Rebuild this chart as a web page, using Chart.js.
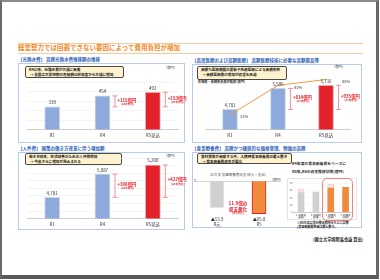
<!DOCTYPE html>
<html lang="ja">
<head>
<meta charset="utf-8">
<script src="https://cdn.jsdelivr.net/npm/chart.js@4.4.1/dist/chart.umd.min.js"></script>
<style>
  html, body { margin: 0; padding: 0; background: #fff; }
  body { width: 380px; height: 280px; position: relative; overflow: hidden; font-family: "Noto Sans CJK JP", sans-serif; }
  .page { position: absolute; left: 0; top: 0; width: 379px; height: 279px; box-sizing: border-box;
          border-left: 2px solid #6a6a6a; border-top: 2px solid #8a8a8a; border-right: 3px solid #666; border-bottom: 4px solid #5a5a5a; }
  .abs { position: absolute; white-space: nowrap; }
  .rule { position: absolute; left: 18px; width: 345px; height: 1px; background: #f7c99c; }
  .title { left: 18px; top: 43px; font-size: 6.5px; line-height: 8px; font-weight: bold; color: #ef8a26; }
  .ptitle { font-size: 4.5px; line-height: 6px; font-weight: bold; color: #2f62b8; }
  .panel { position: absolute; border: 1px solid #b9cbe8; box-sizing: border-box; }
  .callout { position: absolute; background: #fff2cc; border: 1px solid #4a4a4a; border-radius: 2px; box-sizing: border-box;
             font-size: 3.6px; line-height: 4.6px; font-weight: bold; color: #222; padding: 1px 3px; white-space: nowrap; }
  .unit { font-size: 3.4px; color: #444; }
  canvas { position: absolute; }
</style>
</head>
<body>
<div class="page"></div>
<div class="rule" style="top:43px"></div>
<div class="rule" style="top:53px"></div>
<div class="abs title">経営努力では回避できない要因によって費用負担が増加</div>

<div class="abs ptitle" style="left:18px;top:56px">【光熱水費】 高騰光熱水費推移額の推移</div>
<div class="abs ptitle" style="left:192px;top:57px">【高度医療および高額医療】 高額医療技術に必要な高額薬品等</div>
<div class="abs ptitle" style="left:18px;top:145px">【人件費】 国策の働き方改革に伴う増加額</div>
<div class="abs ptitle" style="left:192px;top:145px">【食事療養費】 高騰かつ硬直的な価格管理、物価の高騰</div>

<div class="panel" style="left:18px;top:63px;width:167px;height:80px"></div>
<div class="panel" style="left:192px;top:64px;width:170px;height:79px"></div>
<div class="panel" style="left:18px;top:152px;width:167px;height:78px"></div>
<div class="panel" style="left:192px;top:152px;width:170px;height:76px"></div>

<div class="callout" style="left:25px;top:66px;width:99px;height:12px">R4以降、光熱水費が大幅に高騰<br>&nbsp;→ 全国立大学病院の負担額は前年度から大幅に増加</div>
<div class="callout" style="left:197px;top:66px;width:90px;height:14px">高額な医療機器の更新や先進医療による高額薬剤<br>&nbsp;→ 高額医療費の増加が経営を圧迫</div>
<div class="callout" style="left:25px;top:153px;width:97px;height:12px">働き方改革、処遇改善のための人件費増加<br>&nbsp;→ 今後さらに増加が見込まれる</div>
<div class="callout" style="left:197px;top:153px;width:95px;height:11px">食材費等が高騰する中、入院時食事療養費は据え置き<br>&nbsp;→ 食事療養費収支が悪化</div>

<div class="abs unit" style="left:166px;top:65px">(億円)</div>
<div class="abs unit" style="left:334px;top:64px">(億円)</div>
<div class="abs unit" style="left:166px;top:153px">(億円)</div>
<div class="abs unit" style="left:272px;top:177px">(億円)</div>
<div class="abs" style="left:198px;top:79px;font-size:3.2px;font-weight:bold;color:#333">医療費・高額薬品費の推移(億円)</div>
<div class="abs" style="left:210px;top:172px;font-size:3.5px;color:#555">42大学 食事療養費収支(収入ー支出)</div>
<div class="abs" style="left:194px;top:178px;font-size:3.5px;color:#555">0</div>
<div class="abs" style="left:292px;top:161px;font-size:3.8px;color:#333;font-weight:bold">R4年度の食事療養費をベースに</div>
<div class="abs" style="left:292px;top:169px;font-size:3.8px;color:#333;font-weight:bold">R5年,R6の収支推移試算(億円)</div>
<div class="abs" style="left:287px;top:178px;width:70px;height:42px;border:1px solid #e4e4e4;box-sizing:border-box"></div>
<div class="abs" style="left:322px;top:178px;width:31px;height:43px;border:1px solid #f08080;border-radius:5px;box-sizing:border-box"></div>
<div class="abs" style="left:297px;top:222px;font-size:3px;line-height:3.6px;color:#222;font-weight:bold">※R5年度は食材費高騰率をもとに試算<br>(食事療養費単価は据え置き)</div>
<div class="abs" style="left:313px;top:236px;font-size:4.2px;color:#222;font-weight:bold">(国立大学病院長会議 算出)</div>

<canvas id="c1" width="168" height="65" style="left:22px;top:76px"></canvas>
<canvas id="c2" width="166" height="69" style="left:200px;top:72px"></canvas>
<canvas id="c3" width="168" height="76" style="left:22px;top:154px"></canvas>
<canvas id="c4" width="96" height="53" style="left:190px;top:175px"></canvas>
<canvas id="c5" width="68" height="42" style="left:288px;top:178px"></canvas>

<script>
// ---- data ----
const utilCats = ['R1', 'R4', 'R5見込'];
const utilCost = [339, 454, 492];

const medCats = ['R1', 'R4', 'R5見込'];
const medCost = [4781, 5595, 5716];
const medRatio = [33, 43, 45];

const staffCats = ['R1', 'R4', 'R5見込'];
const staffCost = [4781, 5087, 5208];

const mealCats = ['R元', 'R5'];
const mealBalance = [-53.9, -65.8];

const simCats = [['1. R4年度', '(実績)'], ['2. R4年度', '(試算)'], ['1. R5年度', '(試算)'], ['2. R6年度', '(試算)']];
const simCost = [54, 55, 66, 68];
const simGap = [8, 0, 10, 0];

const BLUE = '#8eaadb', RED = '#e3222c', ORANGE = '#f08a3c', GREY = '#d0d0d0';
const FONT = '"Noto Sans CJK JP", sans-serif';

Chart.defaults.font.family = FONT;
Chart.defaults.animation = false;
Chart.defaults.responsive = false;
Chart.defaults.plugins.legend.display = false;
Chart.defaults.plugins.tooltip.enabled = false;

// value text above each bar
const valueLabels = {
  id: 'valueLabels',
  afterDatasetsDraw(chart, args, opts) {
    if (!opts.show) return;
    const ctx = chart.ctx;
    const meta = chart.getDatasetMeta(0);
    const data = chart.data.datasets[0].data;
    ctx.save();
    ctx.font = '4.5px ' + FONT;
    ctx.fillStyle = '#333';
    ctx.textAlign = 'center';
    ctx.textBaseline = 'bottom';
    meta.data.forEach((bar, i) => ctx.fillText(data[i].toLocaleString('en-US'), bar.x, bar.y - 2));
    ctx.restore();
  }
};

// increase bracket next to each later bar, measured against the first one
const deltas = {
  id: 'deltas',
  afterDatasetsDraw(chart, args, opts) {
    if (!opts.show) return;
    const ctx = chart.ctx;
    const y = chart.scales.y;
    const meta = chart.getDatasetMeta(0);
    const data = chart.data.datasets[0].data;
    const y0 = y.getPixelForValue(data[0]);
    ctx.save();
    for (let i = 1; i < data.length; i++) {
      const bar = meta.data[i];
      const x = bar.x + bar.width / 2 + 5;
      const y1 = y.getPixelForValue(data[i]);
      ctx.strokeStyle = '#f07a80';
      ctx.lineWidth = 0.8;
      ctx.beginPath();
      ctx.moveTo(x, y1); ctx.lineTo(x, y0);
      ctx.moveTo(x - 2.5, y1); ctx.lineTo(x + 2.5, y1);
      ctx.moveTo(x - 2.5, y0); ctx.lineTo(x + 2.5, y0);
      ctx.stroke();
      const mid = (y0 + y1) / 2;
      ctx.fillStyle = RED;
      ctx.textAlign = 'left';
      ctx.textBaseline = 'middle';
      ctx.font = 'bold 4.3px ' + FONT;
      ctx.fillText('+' + (data[i] - data[0]) + '億円', x + 2.5, mid - 1.5);
      ctx.font = 'bold 2.6px ' + FONT;
      ctx.fillText('(R1年度比)', x + 6, mid + 2.5);
    }
    ctx.restore();
  }
};

// percent text beside the line points
const ratioLabels = {
  id: 'ratioLabels',
  afterDatasetsDraw(chart, args, opts) {
    if (!opts.show) return;
    const ctx = chart.ctx;
    const meta = chart.getDatasetMeta(1);
    const data = chart.data.datasets[1].data;
    ctx.save();
    ctx.font = '4px ' + FONT;
    ctx.fillStyle = '#333';
    ctx.textAlign = 'left';
    ctx.textBaseline = 'middle';
    meta.data.forEach((pt, i) => ctx.fillText(data[i] + '%', pt.x + 10 + (i > 0 ? 6 : 0), pt.y + 2));
    ctx.restore();
  }
};

// red note between the two meal bars
const mealNote = {
  id: 'mealNote',
  afterDatasetsDraw(chart, args, opts) {
    if (!opts.show) return;
    const ctx = chart.ctx;
    const meta = chart.getDatasetMeta(0);
    const data = chart.data.datasets[0].data;
    const x = (meta.data[0].x + meta.data[1].x) / 2;
    const y = chart.scales.y.getPixelForValue(-45);
    const diff = Math.abs(data[1] - data[0]).toFixed(1);
    ctx.save();
    ctx.fillStyle = RED;
    ctx.textAlign = 'center';
    ctx.textBaseline = 'middle';
    ctx.font = 'bold 4.6px ' + FONT;
    ctx.fillText(diff + '億の', x, y);
    ctx.fillText('収支悪化', x, y + 5.5);
    ctx.font = 'bold 2.8px ' + FONT;
    ctx.fillText('(R5/R元)', x, y + 10);
    ctx.restore();
  }
};

Chart.register(valueLabels, deltas, ratioLabels, mealNote);

function xAxis(size) {
  return {
    grid: { display: false, drawTicks: false },
    border: { color: '#cfcfcf' },
    ticks: { font: { size: size || 4.5 }, color: '#333', padding: 3 }
  };
}
function yGrid(min, max, step) {
  return {
    min: min, max: max,
    grid: { color: '#ececec', drawTicks: false, lineWidth: 0.6 },
    border: { display: false },
    ticks: { display: false, stepSize: step }
  };
}

// 光熱水費
new Chart(document.getElementById('c1'), {
  type: 'bar',
  data: {
    labels: utilCats,
    datasets: [{
      data: utilCost,
      backgroundColor: [BLUE, BLUE, RED],
      borderColor: ['#c9d6ee', '#c9d6ee', '#f6a5a8'],
      borderWidth: 1,
      barThickness: 15
    }]
  },
  options: {
    layout: { padding: { top: 6, left: 5, right: 12 } },
    scales: { x: xAxis(), y: yGrid(100, 600, 100) },
    plugins: { valueLabels: { show: true }, deltas: { show: true } }
  }
});

// 高度医療
new Chart(document.getElementById('c2'), {
  data: {
    labels: medCats,
    datasets: [
      {
        type: 'bar',
        data: medCost,
        order: 1,
        backgroundColor: [BLUE, BLUE, RED],
        borderColor: ['#c9d6ee', '#c9d6ee', '#f6a5a8'],
        borderWidth: 1,
        barThickness: 15,
        yAxisID: 'y'
      },
      {
        type: 'line',
        data: medRatio,
        order: 0,
        borderColor: '#f39a4a',
        borderWidth: 1,
        pointRadius: 0,
        yAxisID: 'y2'
      }
    ]
  },
  options: {
    layout: { padding: { top: 6, left: 6, right: 16 } },
    scales: {
      x: xAxis(),
      y: { min: 4000, max: 6000, display: false },
      y2: { min: 28, max: 45.5, display: false }
    },
    plugins: { valueLabels: { show: true }, deltas: { show: true }, ratioLabels: { show: true } }
  }
});

// 人件費
new Chart(document.getElementById('c3'), {
  type: 'bar',
  data: {
    labels: staffCats,
    datasets: [{
      data: staffCost,
      backgroundColor: [BLUE, BLUE, RED],
      borderColor: ['#c9d6ee', '#c9d6ee', '#f6a5a8'],
      borderWidth: 1,
      barThickness: 15
    }]
  },
  options: {
    layout: { padding: { top: 4, left: 5, right: 12 } },
    scales: { x: xAxis(), y: yGrid(4500, 5300, 100) },
    plugins: { valueLabels: { show: true }, deltas: { show: true } }
  }
});

// 食事療養費収支
new Chart(document.getElementById('c4'), {
  type: 'bar',
  data: {
    labels: mealCats,
    datasets: [{
      data: mealBalance,
      backgroundColor: [GREY, ORANGE],
      borderColor: ['#e6e6e6', RED],
      borderWidth: 1,
      barThickness: 14
    }]
  },
  options: {
    layout: { padding: { top: 6, left: 6, right: 6 } },
    scales: {
      x: {
        grid: { display: false, drawTicks: false },
        border: { display: false },
        ticks: {
          font: { size: 4.3 }, color: '#333', padding: 1,
          callback: (v, i) => ['▲' + Math.abs(mealBalance[i]).toFixed(1), mealCats[i]]
        }
      },
      y: {
        min: -70, max: 0,
        grid: { color: c => c.tick.value === 0 ? '#b5b5b5' : 'rgba(0,0,0,0)', drawTicks: false, lineWidth: 0.6 },
        border: { display: false },
        ticks: { display: false, stepSize: 10 }
      }
    },
    plugins: { mealNote: { show: true } }
  }
});

// 収支推移試算 (inset)
new Chart(document.getElementById('c5'), {
  type: 'bar',
  data: {
    labels: simCats,
    datasets: [
      {
        data: simCost,
        backgroundColor: [GREY, GREY, ORANGE, ORANGE],
        barThickness: 6
      },
      {
        data: simGap,
        backgroundColor: '#fbe0dc',
        borderColor: '#f2a9a0',
        borderWidth: 0.5,
        barThickness: 6
      }
    ]
  },
  options: {
    layout: { padding: { top: 5, left: 1, right: 3 } },
    scales: {
      x: {
        stacked: true,
        grid: { display: false, drawTicks: false },
        border: { color: '#ccc' },
        ticks: { font: { size: 2.4 }, color: '#333', padding: 1, maxRotation: 0, autoSkip: false }
      },
      y: {
        stacked: true, min: 0, max: 80,
        grid: { color: '#efefef', drawTicks: false, lineWidth: 0.4 },
        border: { display: false },
        ticks: { font: { size: 2.4 }, color: '#555', stepSize: 20, padding: 1 }
      }
    }
  }
});
</script>
</body>
</html>
